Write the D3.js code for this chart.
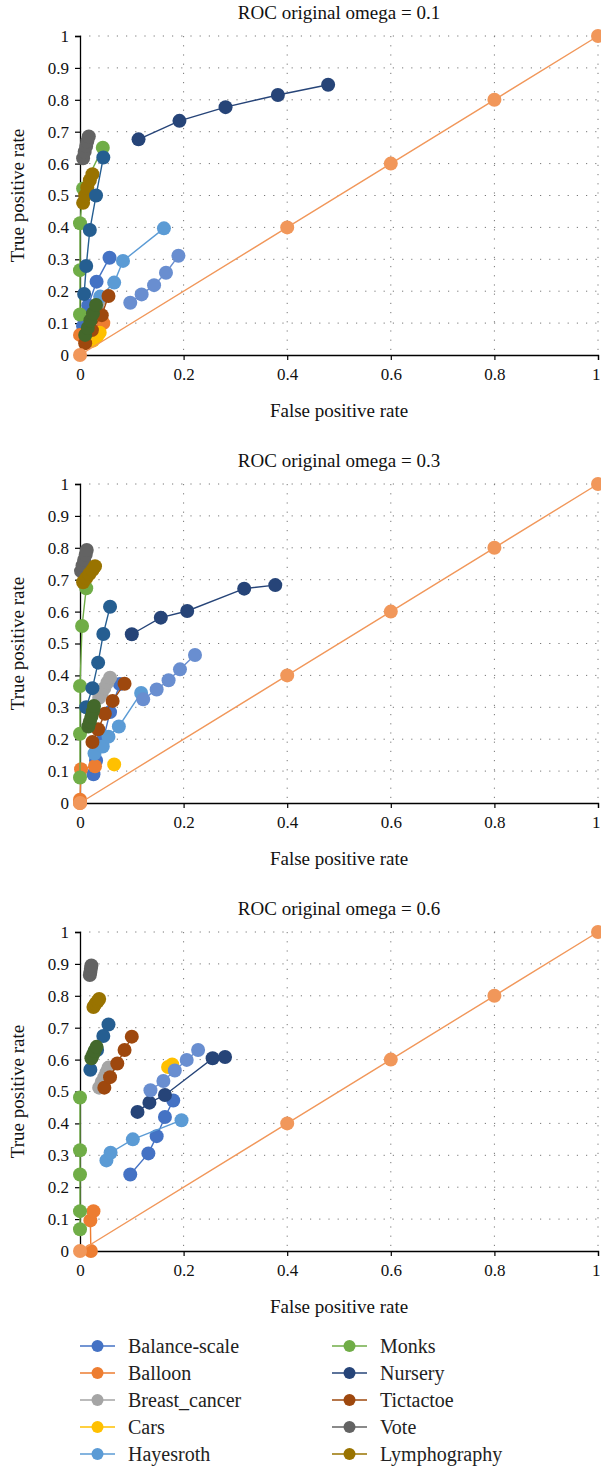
<!DOCTYPE html>
<html>
<head>
<meta charset="utf-8">
<script src="https://cdn.jsdelivr.net/npm/d3@7"></script>
<style>
  body { margin: 0; background: #fff; }
  svg text { font-family: "Liberation Serif", "Times New Roman", Tinos, "DejaVu Serif", serif !important; }
</style>
</head>
<body>
<svg id="chart" width="601" height="1467"></svg>
<script>
// omega value of each panel
var omegas = ["0.1", "0.3", "0.6"];

// legend names (series 11-14 have no legend entry)
var names = ["Balance-scale", "Balloon", "Breast_cancer", "Cars", "Hayesroth",
             "Monks", "Nursery", "Tictactoe", "Vote", "Lymphography"];
var colors = ["#4472c4", "#ed7d31", "#a5a5a5", "#ffc000", "#5b9bd5",
              "#70ad47", "#264478", "#9e480e", "#636363", "#997300",
              "#255e91", "#43682b", "#698ed0", "#f1975a"];

var xTicks = [0, 0.2, 0.4, 0.6, 0.8, 1];
var yTicks = [0, 0.1, 0.2, 0.3, 0.4, 0.5, 0.6, 0.7, 0.8, 0.9, 1];

// [fpr, tpr] per panel (omega 0.1, 0.3, 0.6)
var balanceScale = [
  [[0.006,0.09],[0.016,0.155],[0.032,0.23],[0.057,0.305]],
  [[0.026,0.09],[0.031,0.133],[0.045,0.2],[0.058,0.285],[0.077,0.373]],
  [[0.097,0.24],[0.132,0.306],[0.148,0.36],[0.164,0.42],[0.18,0.472]]
];
var balloon = [
  [[0,0.063],[0.02,0.075],[0.045,0.1]],
  [[0,0],[0,0.01],[0.002,0.106],[0.029,0.115]],
  [[0.021,0],[0.02,0.096],[0.026,0.125]]
];
var breastCancer = [
  [[0.025,0.12],[0.033,0.15],[0.04,0.175]],
  [[0.037,0.33],[0.042,0.345],[0.047,0.36],[0.053,0.378],[0.058,0.393]],
  [[0.037,0.512],[0.042,0.53],[0.047,0.545],[0.051,0.56],[0.055,0.575]]
];
var cars = [
  [[0.025,0.045],[0.033,0.058],[0.038,0.07]],
  [[0.066,0.121]],
  [[0.17,0.577],[0.178,0.585]]
];
var hayesroth = [
  [[0.039,0.183],[0.066,0.227],[0.083,0.295],[0.162,0.397]],
  [[0.028,0.155],[0.044,0.177],[0.055,0.208],[0.075,0.24],[0.118,0.345]],
  [[0.051,0.284],[0.059,0.308],[0.102,0.35],[0.196,0.41]]
];
var monks = [
  [[0,0.127],[0,0.266],[0,0.413],[0.006,0.522],[0.044,0.65]],
  [[0,0.08],[0,0.217],[0,0.367],[0.004,0.555],[0.012,0.673]],
  [[0,0.068],[0,0.125],[0,0.24],[0,0.316],[0,0.481]]
];
var nursery = [
  [[0.113,0.676],[0.192,0.734],[0.281,0.777],[0.382,0.815],[0.479,0.847]],
  [[0.1,0.529],[0.156,0.581],[0.207,0.602],[0.317,0.672],[0.377,0.683]],
  [[0.111,0.436],[0.134,0.465],[0.164,0.489],[0.256,0.604],[0.28,0.608]]
];
var tictactoe = [
  [[0.01,0.037],[0.023,0.078],[0.042,0.125],[0.055,0.185]],
  [[0.024,0.191],[0.035,0.231],[0.048,0.28],[0.063,0.32],[0.086,0.374]],
  [[0.047,0.512],[0.058,0.545],[0.072,0.588],[0.086,0.63],[0.1,0.672]]
];
var vote = [
  [[0.006,0.617],[0.009,0.637],[0.012,0.655],[0.014,0.67],[0.017,0.685]],
  [[0.002,0.727],[0.005,0.745],[0.008,0.762],[0.011,0.778],[0.013,0.793]],
  [[0.019,0.865],[0.02,0.875],[0.021,0.885],[0.022,0.895]]
];
var lymphography = [
  [[0.006,0.477],[0.01,0.5],[0.014,0.525],[0.019,0.548],[0.024,0.567]],
  [[0.006,0.692],[0.012,0.705],[0.018,0.718],[0.024,0.73],[0.029,0.742]],
  [[0.026,0.765],[0.03,0.775],[0.034,0.783],[0.037,0.79]]
];
var series11 = [
  [[0.008,0.191],[0.012,0.279],[0.019,0.392],[0.031,0.5],[0.045,0.619]],
  [[0.012,0.3],[0.024,0.36],[0.035,0.44],[0.045,0.53],[0.058,0.615]],
  [[0.02,0.568],[0.033,0.63],[0.045,0.674],[0.055,0.71]]
];
var series12 = [
  [[0.01,0.063],[0.015,0.085],[0.02,0.108],[0.025,0.13],[0.031,0.157]],
  [[0.016,0.24],[0.019,0.255],[0.022,0.27],[0.025,0.288],[0.027,0.304]],
  [[0.022,0.604],[0.025,0.615],[0.028,0.627],[0.032,0.64]]
];
var series13 = [
  [[0.097,0.164],[0.119,0.19],[0.143,0.219],[0.166,0.258],[0.19,0.311]],
  [[0.122,0.325],[0.148,0.356],[0.171,0.385],[0.193,0.419],[0.222,0.464]],
  [[0.136,0.504],[0.161,0.533],[0.183,0.566],[0.206,0.599],[0.228,0.63]]
];
var diagonal = [
  [[0,0],[0.4,0.4],[0.6,0.6],[0.8,0.8],[1,1]],
  [[0,0],[0.4,0.4],[0.6,0.6],[0.8,0.8],[1,1]],
  [[0,0],[0.4,0.4],[0.6,0.6],[0.8,0.8],[1,1]]
];

var allSeries = [balanceScale, balloon, breastCancer, cars, hayesroth, monks,
                 nursery, tictactoe, vote, lymphography, series11, series12,
                 series13, diagonal];

var svg = d3.select("#chart"),
    margin = {top: 36, left: 80},
    width = 518,
    height = 319,
    panelStep = 448;

var x = d3.scaleLinear().domain([0, 1]).range([0, width]);
var y = d3.scaleLinear().domain([0, 1]).range([height, 0]);

var line = d3.line()
    .x(function(d) { return x(d[0]); })
    .y(function(d) { return y(d[1]); });

var fmt = function(d) { return d === 0 || d === 1 ? d : d3.format(".1f")(d); };

omegas.forEach(function(om, p) {
  var g = svg.append("g")
      .attr("transform", "translate(" + margin.left + "," + (margin.top + p * panelStep) + ")");

  // dotted grid
  g.append("g").selectAll("line")
    .data(yTicks.slice(1))
    .enter().append("line")
      .attr("x1", 0).attr("x2", width)
      .attr("y1", function(d) { return y(d); })
      .attr("y2", function(d) { return y(d); })
      .attr("stroke", "#777").attr("stroke-width", 1)
      .attr("stroke-dasharray", "1.2,8");
  g.append("g").selectAll("line")
    .data(xTicks.slice(1))
    .enter().append("line")
      .attr("x1", function(d) { return x(d); })
      .attr("x2", function(d) { return x(d); })
      .attr("y1", 0).attr("y2", height)
      .attr("stroke", "#777").attr("stroke-width", 1)
      .attr("stroke-dasharray", "1.2,8");

  // axes
  var yAxis = g.append("g")
      .call(d3.axisLeft(y).tickValues(yTicks).tickSize(5).tickPadding(6).tickFormat(fmt));
  var xAxis = g.append("g")
      .attr("transform", "translate(0," + height + ")")
      .call(d3.axisBottom(x).tickValues(xTicks).tickSize(5).tickPadding(8).tickFormat(fmt));
  [xAxis, yAxis].forEach(function(a) {
    a.attr("font-family", null).attr("font-size", null);
    a.select(".domain").attr("stroke", "#000").attr("stroke-width", 1.3);
    a.selectAll(".tick line").attr("stroke", "#000").attr("stroke-width", 1.2);
    a.selectAll("text").attr("font-size", 17).attr("fill", "#111");
  });
  // keep the last x label inside the page
  xAxis.selectAll(".tick text")
    .filter(function(d) { return d === 1; })
    .attr("text-anchor", "end").attr("dx", 2);

  // series
  allSeries.forEach(function(s, i) {
    var pts = s[p];
    g.append("path")
      .datum(pts)
      .attr("d", line)
      .attr("fill", "none")
      .attr("stroke", colors[i])
      .attr("stroke-width", 1.4);
    g.append("g").selectAll("circle")
      .data(pts)
      .enter().append("circle")
        .attr("cx", function(d) { return x(d[0]); })
        .attr("cy", function(d) { return y(d[1]); })
        .attr("r", 7)
        .attr("fill", colors[i]);
  });

  // labels
  g.append("text")
    .attr("x", width / 2).attr("y", -17)
    .attr("text-anchor", "middle")
    .attr("font-size", 19).attr("fill", "#111")
    .text("ROC original omega = " + om);
  g.append("text")
    .attr("x", width / 2).attr("y", height + 62)
    .attr("text-anchor", "middle")
    .attr("font-size", 19).attr("fill", "#111")
    .text("False positive rate");
  g.append("text")
    .attr("transform", "translate(-56," + (height / 2) + ") rotate(-90)")
    .attr("text-anchor", "middle")
    .attr("font-size", 19).attr("fill", "#111")
    .text("True positive rate");
});

// legend
var legend = svg.append("g").attr("transform", "translate(80,1346)");
var item = legend.selectAll("g")
  .data(names)
  .enter().append("g")
    .attr("transform", function(d, i) {
      return "translate(" + (i < 5 ? 0 : 252) + "," + ((i % 5) * 27) + ")";
    });
item.append("line")
  .attr("x1", 0).attr("x2", 35)
  .attr("stroke", function(d, i) { return colors[i]; })
  .attr("stroke-width", 1.4);
item.append("circle")
  .attr("cx", 17.5).attr("r", 6)
  .attr("fill", function(d, i) { return colors[i]; });
item.append("text")
  .attr("x", 48).attr("dy", "0.35em")
  .attr("font-size", 20).attr("fill", "#222")
  .text(function(d) { return d; });
</script>
</body>
</html>
